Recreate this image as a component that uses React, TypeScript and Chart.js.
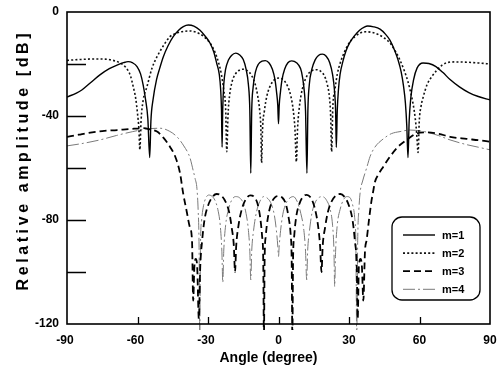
import { useEffect, useRef } from "react";
import { Chart, registerables } from "chart.js";

Chart.register(...registerables);

// Radiation patterns: [angle (deg), relative amplitude (dB)]
const m1Pattern: [number, number][] = [
  [-90, -32.7], [-86, -31.2], [-83.7, -30], [-80, -27.2], [-76, -24.2], [-72, -21.8], [-68.7, -20.4],
  [-66, -19.5], [-64, -19.1], [-62, -19.6], [-60.2, -21], [-58.7, -23.8], [-57.6, -28], [-56.6, -33.5],
  [-55.6, -41], [-54.8, -56], [-54.3, -42], [-53.4, -33.8], [-51.9, -26], [-50.5, -21.5], [-49, -17.2],
  [-47, -13], [-44.8, -9.5], [-42.5, -7], [-40.5, -5.6], [-38.4, -5], [-36, -5.4], [-33.4, -7],
  [-31, -9.5], [-29.1, -12], [-27.5, -15.5], [-26.3, -19.7], [-25.2, -24], [-24.6, -30], [-24.25, -38],
  [-24, -52], [-23.75, -38], [-23.3, -28], [-22.5, -22], [-21.3, -18.5], [-20, -16.7], [-18.2, -15.8],
  [-16.5, -16.5], [-15, -18.3], [-13.8, -22], [-12.8, -28], [-12.2, -38], [-11.8, -62], [-11.4, -38],
  [-10.8, -29], [-9.8, -23], [-8.5, -20], [-7, -18.9], [-5.6, -18.7], [-4, -19.6], [-2.6, -22],
  [-1.5, -26], [-0.8, -31], [-0.3, -36], [0, -43], [0.3, -36], [0.8, -31], [1.5, -26], [2.6, -22],
  [4, -19.5], [5.6, -18.8], [6.7, -19], [8.5, -20.3], [9.8, -23], [10.8, -29], [11.5, -38], [12.1, -62],
  [12.5, -38], [13.1, -28], [14.2, -22], [15.6, -18.4], [17, -16.7], [18.7, -16.2], [20.3, -17],
  [21.8, -19.5], [23, -24], [23.8, -30], [24.3, -38], [24.6, -52], [25, -38], [25.5, -30], [26.2, -24],
  [27.4, -19], [28.7, -15], [30.2, -12], [32.2, -9.3], [34.5, -7], [36.5, -5.8], [38, -5.4], [40.5, -5.7],
  [43.2, -6.6], [45.5, -8.5], [47.4, -10.8], [49.3, -14.5], [50.9, -18.5], [52.2, -23], [53.2, -28.5],
  [54, -35], [54.6, -44], [55.1, -56], [55.6, -42], [56.3, -33], [57.5, -26], [59, -21.5], [61.5, -19.6],
  [64, -19.8], [67, -21], [70, -23.3], [73, -26], [77, -28.8], [81, -31], [85, -32.5], [90, -33.8],
];

const m2Pattern: [number, number][] = [
  [-90, -18.6], [-85, -18.3], [-80, -18.1], [-75, -18.1], [-70, -18.7], [-67, -19.8], [-65, -21.3],
  [-63, -24.5], [-61.8, -28.8], [-60.8, -33], [-60, -39], [-59.4, -45], [-59, -53], [-58.5, -42],
  [-57.6, -34], [-56, -28.8], [-53.8, -21.5], [-51.7, -17.2], [-49, -13], [-46.2, -9.5], [-43, -8],
  [-40.5, -7.5], [-37.7, -7.3], [-35, -7.8], [-32, -9.3], [-29.1, -12], [-27, -15.5], [-25.5, -19.5],
  [-24.3, -24], [-23.3, -30], [-22.5, -37], [-22, -53.7], [-21.5, -40], [-20.8, -32], [-19.8, -27],
  [-18.3, -23.8], [-16.7, -22.4], [-15, -22], [-13.2, -22.6], [-11.5, -24.3], [-10, -27.5], [-8.9, -32],
  [-8, -38], [-7.5, -45], [-7.2, -58], [-6.8, -45], [-6, -38], [-5, -32.5], [-3.8, -29], [-2, -26.3],
  [0.3, -25.4], [2.3, -26.3], [4, -28.8], [5.3, -32.5], [6.3, -38], [7, -45], [7.6, -57.6], [8.1, -45],
  [8.7, -38], [9.6, -32], [10.8, -27.5], [12.3, -24.3], [14.2, -22.6], [16.2, -22.2], [18, -22.8],
  [19.5, -24.5], [20.8, -28], [21.7, -33], [22.2, -40], [22.6, -53.7], [23.1, -37], [24, -30], [25, -24],
  [26.3, -19.5], [28, -15.5], [30, -12], [32.5, -9.5], [35, -8], [37.2, -7.6], [39.5, -7.8], [42, -8.5],
  [45, -10], [47.5, -12], [50, -15.5], [51.7, -18.5], [53.5, -22.5], [55, -26.5], [56, -30], [57.2, -35],
  [58.2, -41], [58.8, -46.7], [59.4, -54], [59.9, -42], [60.7, -36], [61.6, -32.6], [63.2, -28],
  [65.2, -24.9], [67.3, -22.5], [69.5, -20.5], [71.6, -19.5], [75, -19.2], [80, -19.3], [85, -19.6], [90, -20],
];

const m3Pattern: [number, number][] = [
  [-90, -48], [-85, -47.2], [-81.6, -46.6], [-75, -45.8], [-68.7, -45.4], [-63, -45], [-57.6, -44.7],
  [-54.5, -45.2], [-51.7, -46], [-49, -48.3], [-46.2, -51.8], [-44, -55.5], [-41.9, -62], [-40.6, -69.6],
  [-39, -77], [-37.8, -82.5], [-36.8, -88], [-36.3, -111], [-35.8, -98], [-35.2, -95], [-34.6, -98],
  [-33.9, -118], [-33.3, -98], [-32.5, -88], [-31.5, -80], [-30, -74.5], [-28, -71], [-26.3, -70],
  [-24.5, -70.5], [-22.5, -73], [-21, -77], [-19.9, -83], [-19, -90], [-18.5, -100], [-18, -90],
  [-17, -82], [-15.5, -75.5], [-13.5, -71.5], [-12, -70.5], [-10.5, -71], [-9, -73.5], [-7.8, -79],
  [-7, -86], [-6.5, -95], [-6.2, -125], [-5.9, -95], [-5.4, -86], [-4.5, -79], [-3, -73.5],
  [-1.5, -71.3], [0, -70.8], [1.5, -71.3], [3, -73.5], [4.3, -79], [5.2, -86], [5.6, -95], [5.9, -125],
  [6.2, -95], [6.7, -86], [7.5, -79], [9, -73.5], [10.5, -71], [12, -70.3], [13.5, -71.2], [15.3, -75],
  [16.8, -82], [17.7, -90], [18.3, -100], [18.8, -90], [19.8, -83], [21, -77], [22.5, -73], [24.5, -70.5],
  [26.3, -70], [28, -71], [30, -74.5], [31.5, -80], [32.5, -88], [33.3, -98], [33.7, -118], [34.2, -98],
  [34.9, -95], [35.5, -98], [36.1, -111], [36.8, -92], [37.5, -87.7], [38.5, -80], [39.5, -73],
  [40.2, -69.5], [41, -65.5], [42.5, -62.5], [44.6, -59.5], [47.4, -55.7], [50.9, -51.8], [54.5, -49.2],
  [58.8, -46.7], [63, -46.3], [68, -46.8], [73, -48], [80, -48.8], [85, -49.3], [90, -49.9],
];

const m4Pattern: [number, number][] = [
  [-90, -51.5], [-83, -50.5], [-76, -49.2], [-69, -47.5], [-62, -46], [-56, -45], [-50.4, -44.7],
  [-46.5, -45.8], [-43.2, -48], [-40.3, -51.5], [-37.7, -56], [-36.3, -61], [-35.5, -64], [-34.7, -68],
  [-34.2, -76], [-33.8, -90], [-33.5, -125], [-33.2, -90], [-32.7, -80], [-31.9, -74.5], [-30.9, -71.5],
  [-29.7, -70.4], [-28.4, -70.8], [-27, -72.5], [-25.8, -76], [-24.8, -82], [-24.1, -92], [-23.7, -104],
  [-23.3, -92], [-22.5, -82], [-21.3, -76], [-20, -72.5], [-18.3, -71], [-16.5, -71.5], [-15, -73.5],
  [-13.8, -77.5], [-12.8, -84], [-12.2, -92], [-11.8, -103], [-11.4, -92], [-10.6, -84], [-9.5, -77.5],
  [-8, -73], [-6.3, -71], [-4.5, -71.8], [-3, -74], [-1.8, -78], [-0.9, -84], [-0.3, -90], [0, -94],
  [0.3, -90], [0.9, -84], [1.8, -78], [3, -74], [4.5, -71.8], [6.3, -71], [8, -73], [9.5, -77.5],
  [10.8, -84], [11.5, -92], [12, -103], [12.4, -92], [13.2, -84], [14.2, -77.5], [15.5, -73.5],
  [17, -71.5], [18.7, -71], [20.5, -72.5], [22, -76], [23, -82], [23.6, -92], [23.9, -105.6], [24.3, -92],
  [25, -82], [26.2, -76], [27.5, -72.5], [29, -71], [30.3, -71.3], [31.5, -74], [32.4, -79], [32.9, -88],
  [33.3, -125], [33.7, -88], [34.2, -76], [34.8, -69], [35.8, -65], [36.8, -62], [37.5, -60], [39, -55.5],
  [41, -52], [44.6, -48.8], [48, -46.8], [51.7, -46], [56, -45.4], [62, -46], [68, -47.5], [73, -49.2],
  [80, -51], [85, -52], [90, -53],
];

const seriesLabels = ["m=1", "m=2", "m=3", "m=4"];
const xTickLabels = [-90, -60, -30, 0, 30, 60, 90];
const xTickMarks = [-60, -30, 0, 30, 60];
const yTickLabels = [0, -40, -80, -120];
const yTickMarks = [-20, -40, -60, -80, -100];
const xTitle = "Angle (degree)";
const yTitle = "Relative amplitude [dB]";

const FONT = '"Liberation Sans", Arial, Helvetica, sans-serif';

const lineStyles = [
  { color: "#000000", width: 1.4, dash: [] as number[] },
  { color: "#111111", width: 1.6, dash: [2, 2.2] },
  { color: "#000000", width: 1.8, dash: [7, 4] },
  { color: "#7a7a7a", width: 1, dash: [12, 3, 2, 3] },
];

const patterns = [m1Pattern, m2Pattern, m3Pattern, m4Pattern];

function roundRectPath(ctx: CanvasRenderingContext2D, x: number, y: number, w: number, h: number, r: number) {
  ctx.beginPath();
  ctx.moveTo(x + r, y);
  ctx.lineTo(x + w - r, y);
  ctx.arcTo(x + w, y, x + w, y + r, r);
  ctx.lineTo(x + w, y + h - r);
  ctx.arcTo(x + w, y + h, x + w - r, y + h, r);
  ctx.lineTo(x + r, y + h);
  ctx.arcTo(x, y + h, x, y + h - r, r);
  ctx.lineTo(x, y + r);
  ctx.arcTo(x, y, x + r, y, r);
  ctx.closePath();
}

// Frame, inward tick marks, labels, titles and the boxed legend
const decorPlugin = {
  id: "patternDecor",
  afterDraw(chart: any) {
    const { ctx, chartArea: a, scales } = chart;
    const xs = scales.x;
    const ys = scales.y;
    ctx.save();

    ctx.strokeStyle = "#000";
    ctx.lineWidth = 1.6;
    ctx.setLineDash([]);
    ctx.strokeRect(a.left, a.top, a.right - a.left, a.bottom - a.top);

    ctx.lineWidth = 1.3;
    ctx.beginPath();
    for (const v of yTickMarks) {
      const y = Math.round(ys.getPixelForValue(v)) + 0.5;
      ctx.moveTo(a.left, y);
      ctx.lineTo(a.left + 19, y);
    }
    for (const v of xTickMarks) {
      const x = Math.round(xs.getPixelForValue(v)) + 0.5;
      ctx.moveTo(x, a.bottom);
      ctx.lineTo(x, a.bottom - 7);
    }
    ctx.stroke();

    ctx.fillStyle = "#000";
    ctx.font = `bold 12px ${FONT}`;
    ctx.textAlign = "right";
    ctx.textBaseline = "middle";
    for (const v of yTickLabels) ctx.fillText(String(v), a.left - 8, ys.getPixelForValue(v));

    ctx.textAlign = "center";
    const minusW = ctx.measureText("-").width;
    for (const v of xTickLabels) {
      const shift = v < 0 ? minusW / 2 : 0;
      ctx.fillText(String(v), xs.getPixelForValue(v) - shift, a.bottom + 17);
    }

    ctx.font = `bold 14px ${FONT}`;
    ctx.textBaseline = "alphabetic";
    ctx.fillText(xTitle, (a.left + a.right) / 2 - 10, a.bottom + 38);

    // letter-spaced vertical title
    ctx.font = `bold 16px ${FONT}`;
    const chars = [...yTitle];
    const spacing = 3.6;
    const widths = chars.map((c) => ctx.measureText(c).width);
    const total = widths.reduce((s, w) => s + w, 0) + spacing * (chars.length - 1);
    ctx.save();
    ctx.translate(28, (a.top + a.bottom) / 2 - 6);
    ctx.rotate(-Math.PI / 2);
    ctx.textAlign = "left";
    let tx = -total / 2;
    chars.forEach((c, i) => {
      ctx.fillText(c, tx, 0);
      tx += widths[i] + spacing;
    });
    ctx.restore();

    // legend
    const lx = 392, ly = 217, lw = 88, lh = 83;
    roundRectPath(ctx, lx, ly, lw, lh, 10);
    ctx.fillStyle = "#fff";
    ctx.fill();
    ctx.lineWidth = 1.3;
    ctx.strokeStyle = "#000";
    ctx.stroke();
    ctx.font = `bold 11px ${FONT}`;
    ctx.textAlign = "left";
    ctx.textBaseline = "middle";
    seriesLabels.forEach((label, i) => {
      const st = lineStyles[i];
      const y = ly + 18 + i * 18.1;
      ctx.beginPath();
      ctx.strokeStyle = st.color;
      ctx.lineWidth = st.width;
      ctx.setLineDash(st.dash);
      ctx.moveTo(403, y);
      ctx.lineTo(435, y);
      ctx.stroke();
      ctx.setLineDash([]);
      ctx.fillStyle = "#000";
      ctx.fillText(label, 442, y + 0.5);
    });

    ctx.restore();
  },
};

export default function App() {
  const canvasRef = useRef<HTMLCanvasElement | null>(null);

  useEffect(() => {
    const canvas = canvasRef.current;
    if (!canvas) return;
    const chart = new Chart(canvas, {
      type: "line",
      data: {
        datasets: patterns.map((p, i) => ({
          label: seriesLabels[i],
          data: p.map(([x, y]) => ({ x, y })),
          borderColor: lineStyles[i].color,
          borderWidth: lineStyles[i].width,
          borderDash: lineStyles[i].dash,
          pointRadius: 0,
          fill: false,
          cubicInterpolationMode: "monotone" as const,
          clip: { left: 0, top: 0, right: 0, bottom: 6 } as any,
        })),
      },
      options: {
        responsive: false,
        animation: false,
        devicePixelRatio: 1,
        layout: { padding: { left: 67, top: 12, right: 11, bottom: 50 } },
        plugins: { legend: { display: false }, tooltip: { enabled: false } },
        events: [],
        scales: {
          x: { type: "linear", min: -90, max: 90, display: false },
          y: { type: "linear", min: -120, max: 0, display: false },
        },
      },
      plugins: [decorPlugin],
    });
    return () => chart.destroy();
  }, []);

  return (
    <div style={{ position: "fixed", left: 0, top: 0, width: 501, height: 374, background: "#fff" }}>
      <canvas ref={canvasRef} width={501} height={374} style={{ display: "block" }} />
    </div>
  );
}
